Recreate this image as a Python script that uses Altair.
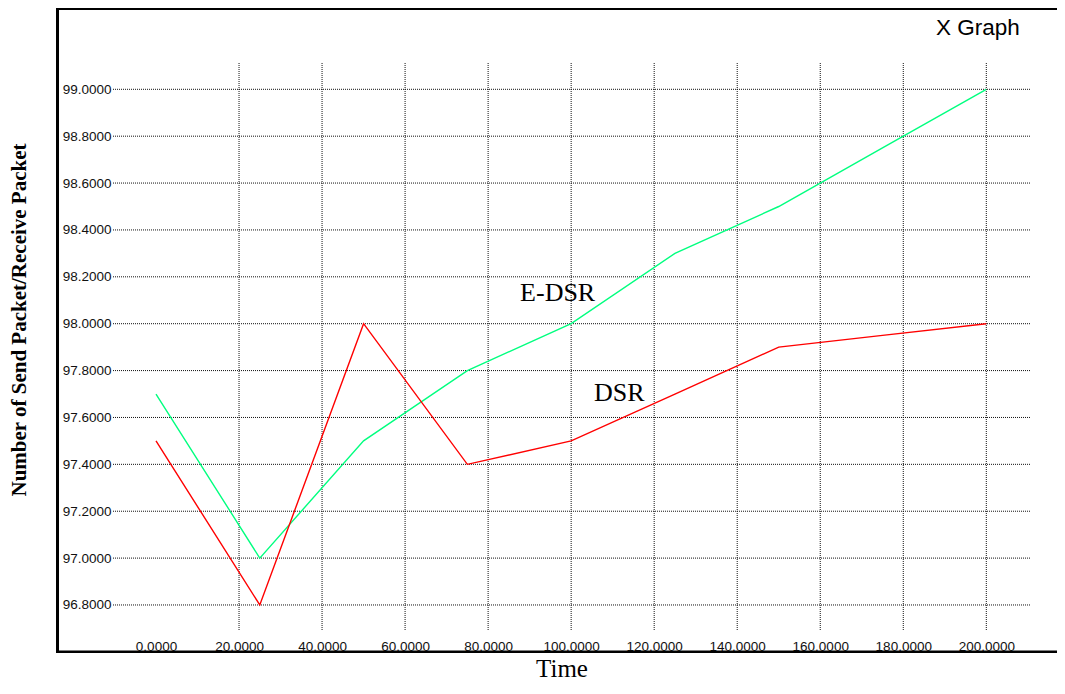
import altair as alt
import pandas as pd

# ---- data ----
times = [0, 25, 50, 75, 100, 125, 150, 175, 200]
edsr = [97.7, 97.0, 97.5, 97.8, 98.0, 98.3, 98.5, 98.75, 99.0]
dsr = [97.5, 96.8, 98.0, 97.4, 97.5, 97.7, 97.9, 97.95, 98.0]

x_ticks = [0, 20, 40, 60, 80, 100, 120, 140, 160, 180, 200]
x_grid = [20, 40, 60, 80, 100, 120, 140, 160, 180, 200]
y_ticks = [96.8, 97.0, 97.2, 97.4, 97.6, 97.8, 98.0, 98.2, 98.4, 98.6, 98.8, 99.0]

label_names = ["E-DSR", "DSR"]
label_x = [87.7, 105.5]
label_y = [98.098, 97.672]

# ---- layout ----
W, H = 917, 568
XS = alt.Scale(domain=[-10.358, 210.526], nice=False, zero=False)
YS = alt.Scale(domain=[96.689, 99.1122], nice=False, zero=False)

xaxis = alt.Axis(values=x_ticks, format=".4f", grid=False, domain=False, ticks=True,
                 tickSize=0, tickOpacity=0, labelPadding=19, labelBaseline="alphabetic",
                 labelFont="Liberation Sans", labelFontSize=13.5, labelColor="#111",
                 labelFlush=False, labelOverlap=False, title=None)
yaxis = alt.Axis(values=y_ticks, format=".4f", grid=False, domain=False, ticks=True,
                 tickSize=0, tickOpacity=0, labelPadding=2, labelAlign="right",
                 labelBaseline="middle", labelFont="Liberation Sans", labelFontSize=13.5,
                 labelColor="#111", labelFlush=False, labelOverlap=False, title=None)

X = lambda f: alt.X(f"{f}:Q", scale=XS, axis=xaxis)
Y = lambda f: alt.Y(f"{f}:Q", scale=YS, axis=yaxis)

df_lines = pd.DataFrame({
    "t": times * 2,
    "v": edsr + dsr,
    "series": ["E-DSR"] * len(times) + ["DSR"] * len(times),
})
df_vgrid = pd.DataFrame({"t": x_grid})
df_hgrid = pd.DataFrame({"v": y_ticks})
df_labels = pd.DataFrame({"t": label_x, "v": label_y, "name": label_names})
one = alt.Data(values=[{}])

vgrid = alt.Chart(df_vgrid).mark_rule(color="#111", strokeWidth=1, strokeDash=[1, 1]).encode(
    x=X("t"), y=alt.value(0), y2=alt.value(H))
hgrid = alt.Chart(df_hgrid).mark_rule(color="#111", strokeWidth=1, strokeDash=[1, 1]).encode(
    y=Y("v"), x=alt.value(0), x2=alt.value(W))

lines = alt.Chart(df_lines).mark_line(strokeWidth=1.4).encode(
    x=X("t"), y=Y("v"),
    color=alt.Color("series:N", scale=alt.Scale(domain=["E-DSR", "DSR"],
                                                range=["#00FF7F", "#FF0000"]), legend=None),
    detail="series:N")

labels = alt.Chart(df_labels).mark_text(font="Liberation Serif", fontSize=26, align="left",
                                         baseline="alphabetic", color="black").encode(
    x=X("t"), y=Y("v"), text="name:N")

frame_left = alt.Chart(one).mark_rule(color="black", strokeWidth=3).encode(
    x=alt.value(-55.5), y=alt.value(-55), y2=alt.value(590))
frame_top = alt.Chart(one).mark_rule(color="black", strokeWidth=2).encode(
    x=alt.value(-57), x2=alt.value(950), y=alt.value(-54))
frame_bottom = alt.Chart(one).mark_rule(color="black", strokeWidth=2.5).encode(
    x=alt.value(-57), x2=alt.value(950), y=alt.value(588.7))

title_tr = alt.Chart(one).mark_text(font="Liberation Sans", fontSize=22.5, align="left",
                                    baseline="alphabetic", color="black").encode(
    x=alt.value(823), y=alt.value(-28), text=alt.value("X Graph"))
x_title = alt.Chart(one).mark_text(font="Liberation Serif", fontSize=25, align="center",
                                   baseline="alphabetic", color="black").encode(
    x=alt.value(449), y=alt.value(614), text=alt.value("Time"))
y_title = alt.Chart(one).mark_text(font="Liberation Serif", fontSize=21, fontWeight="bold",
                                   align="center", baseline="middle", angle=270,
                                   color="black").encode(
    x=alt.value(-93), y=alt.value(257),
    text=alt.value("Number of Send Packet/Receive Packet"))

chart = alt.layer(
    vgrid, hgrid, lines, labels, frame_left, frame_top, frame_bottom,
    title_tr, x_title, y_title
).properties(
    width=W, height=H,
    autosize=alt.AutoSizeParams(type="none"),
    padding={"left": 105, "top": 55, "right": 27, "bottom": 53},
    background="white",
).configure_view(stroke=None)

chart.save("out.html", embed_options={"renderer": "svg", "actions": False})
